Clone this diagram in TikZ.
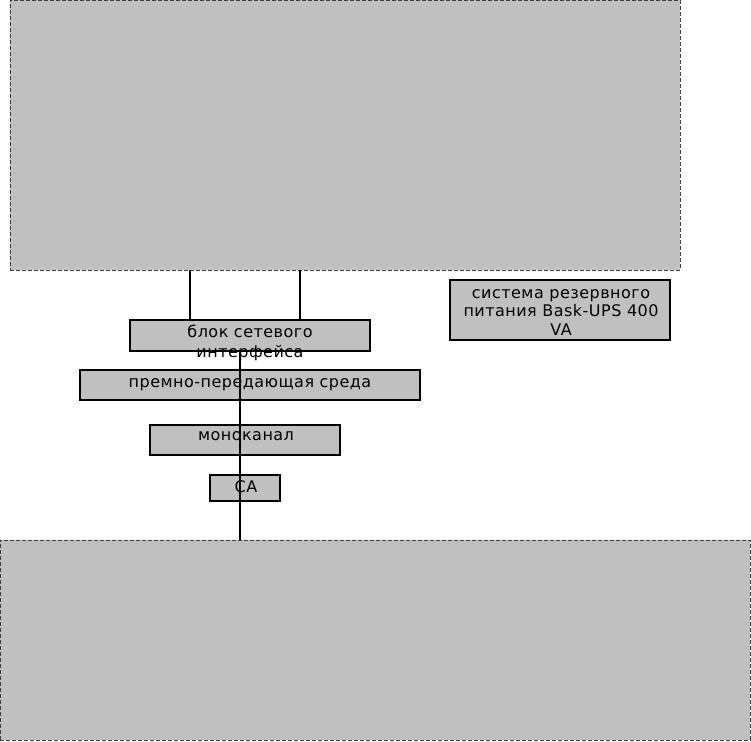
\documentclass[tikz,border=0pt]{standalone}
\usepackage{fontspec}
\setmainfont[LetterSpace=3]{DejaVu Sans}
\definecolor{boxgray}{HTML}{C0C0C0}
\definecolor{dashgray}{HTML}{404040}
\begin{document}
\begin{tikzpicture}[x=1pt,y=-1pt,
  bigbox/.style={draw=dashgray, dash pattern=on 4pt off 2pt, fill=boxgray, line width=0.8pt, inner sep=0pt, outer sep=0pt, anchor=north west},
  smallbox/.style={draw=black, fill=boxgray, line width=1.3pt, inner sep=0pt, outer sep=0pt, anchor=north west},
  lbl/.style={font=\fontsize{16}{19}\selectfont, anchor=base, inner sep=0pt},
  wire/.style={draw=black, line width=1.1pt}]
\useasboundingbox (0,0) rectangle (751,741);
% big boxes
\node[bigbox, minimum width=670pt, minimum height=270pt] (top) at (10,0) {};
\node[bigbox, minimum width=750pt, minimum height=200pt] (bot) at (0,540) {};
% small boxes
\node[smallbox, minimum width=240pt, minimum height=31pt] (net) at (130,320) {};
\node[smallbox, minimum width=340pt, minimum height=30pt] (media) at (80,370) {};
\node[smallbox, minimum width=190pt, minimum height=30pt] (mono) at (150,425) {};
\node[smallbox, minimum width=70pt, minimum height=26pt] (ca) at (210,475) {};
\node[smallbox, minimum width=220pt, minimum height=60pt] (ups) at (450,280) {};
% connectors
\coordinate (c1) at (190,0);
\coordinate (c2) at (300,0);
\coordinate (c3) at (240,0);
\draw[wire] (top.south -| c1) -- (net.north -| c1);
\draw[wire] (top.south -| c2) -- (net.north -| c2);
\draw[wire] (net.south -| c3) -- (bot.north -| c3);
% labels
\node[lbl] (netA) at (250,337) {блок сетевого};
\node[lbl] (netB) at (250,357) {интерфейса};
\node[lbl] (mediaT) at (250,387) {премно-передающая среда};
\node[lbl] (monoT) at (246,440) {моноканал};
\node[lbl] (caT) at (246,492) {СА};
\node[lbl] (upsA) at (561,298) {система резервного};
\node[lbl] (upsB) at (561,316.5) {питания Bask-UPS 400};
\node[lbl] (upsC) at (561,335) {VA};
\end{tikzpicture}
\end{document}
